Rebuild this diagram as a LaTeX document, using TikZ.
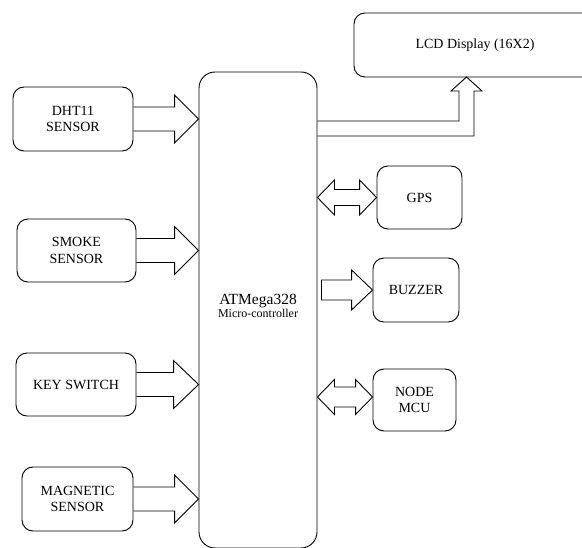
\documentclass[tikz,border=0pt]{standalone}
\usepackage{fontspec}
\setmainfont{Liberation Serif}
\usetikzlibrary{calc}
\tikzset{
  blk/.style={draw, rounded corners=11pt, line width=0.9pt, align=center,
    font=\fontsize{14}{16.5}\selectfont, inner sep=0pt},
  fat/.style={draw, line width=0.9pt, line join=miter},
}
% right-pointing fat arrow from #1 to #2 (same y as #1): shaft half #3, head half #4, head length #5
\newcommand{\fatR}[5]{%
  \draw[fat] let \p1=(#1), \p2=(#2) in
    (\x1,\y1+#3pt) -- (\x2-#5pt,\y1+#3pt) -- (\x2-#5pt,\y1+#4pt) -- (\x2,\y1)
    -- (\x2-#5pt,\y1-#4pt) -- (\x2-#5pt,\y1-#3pt) -- (\x1,\y1-#3pt);}
% same, with a closed tail
\newcommand{\fatRc}[5]{%
  \draw[fat] let \p1=(#1), \p2=(#2) in
    (\x1,\y1+#3pt) -- (\x2-#5pt,\y1+#3pt) -- (\x2-#5pt,\y1+#4pt) -- (\x2,\y1)
    -- (\x2-#5pt,\y1-#4pt) -- (\x2-#5pt,\y1-#3pt) -- (\x1,\y1-#3pt) -- cycle;}
% double-headed fat arrow between #1 and #2
\newcommand{\fatLR}[5]{%
  \draw[fat] let \p1=(#1), \p2=(#2) in
    (\x1,\y1) -- (\x1+#5pt,\y1+#4pt) -- (\x1+#5pt,\y1+#3pt) -- (\x2-#5pt,\y1+#3pt)
    -- (\x2-#5pt,\y1+#4pt) -- (\x2,\y1) -- (\x2-#5pt,\y1-#4pt) -- (\x2-#5pt,\y1-#3pt)
    -- (\x1+#5pt,\y1-#3pt) -- (\x1+#5pt,\y1-#4pt) -- cycle;}
\begin{document}
\begin{tikzpicture}[x=1pt,y=-1pt]
\useasboundingbox (0,0) rectangle (582,548);
\clip (0,0) rectangle (582,548);

% blocks
\node[blk, minimum width=120pt, minimum height=64pt] (dht) at (73,119) {DHT11\\SENSOR};
\node[blk, minimum width=119pt, minimum height=63pt] (smoke) at (76.5,250.5) {SMOKE\\SENSOR};
\node[blk, minimum width=120pt, minimum height=63pt] (key) at (76,384.5) {KEY SWITCH};
\node[blk, minimum width=111pt, minimum height=64pt] (mag) at (77.5,499) {MAGNETIC\\SENSOR};
\node[blk, rounded corners=16pt, minimum width=118pt, minimum height=476pt] (mcu) at (258,310) {};
\node[align=center, inner sep=0pt] (mcutext) at (258,306)
  {{\fontsize{15.5}{17}\selectfont ATMega328}\\[1pt]{\fontsize{12}{14}\selectfont Micro-controller}};
\node[blk, minimum width=242pt, minimum height=64pt] (lcd) at (475,45) {LCD Display (16X2)};
\node[blk, minimum width=85pt, minimum height=63pt] (gps) at (419.5,197.5) {GPS};
\node[blk, minimum width=86pt, minimum height=64pt] (buzzer) at (416,290) {BUZZER};
\node[blk, minimum width=83pt, minimum height=62pt] (nodemcu) at (414.5,400) {NODE\\MCU};

% input arrows
\fatR{dht.east}{mcu.west}{12}{24}{24}
\fatR{smoke.east}{mcu.west}{12}{24}{24}
\fatR{key.east}{mcu.west}{12}{24}{25}
\fatR{mag.east}{mcu.west}{12}{24}{24}

% output arrows
\coordinate (buzout) at ($(mcu.east |- buzzer.west)+(4,0)$);
\fatRc{buzout}{buzzer.west}{10}{20}{21}
\fatLR{mcu.east |- gps.west}{gps.west}{8}{17.5}{17}
\coordinate (nodeL) at (mcu.east |- 0,397);
\coordinate (nodeR) at (nodemcu.west |- 0,397);
\fatLR{nodeL}{nodeR}{10}{17.5}{17}

% LCD elbow arrow
\coordinate (lcdout) at (mcu.east |- 0,128.5);
\coordinate (lcdin) at (466.5,77);
\draw[fat] let \p1=(lcdout), \p2=(lcdin) in
  (\x1,\y1+7.5pt) -- (\x2-7.5pt,\y1+7.5pt) -- (\x2-7.5pt,\y2-14pt) -- (\x2-15.5pt,\y2-14pt)
  -- (\x2,\y2) -- (\x2+15.5pt,\y2-14pt) -- (\x2+7.5pt,\y2-14pt) -- (\x2+7.5pt,\y1-7.5pt)
  -- (\x1,\y1-7.5pt);
\end{tikzpicture}
\end{document}
